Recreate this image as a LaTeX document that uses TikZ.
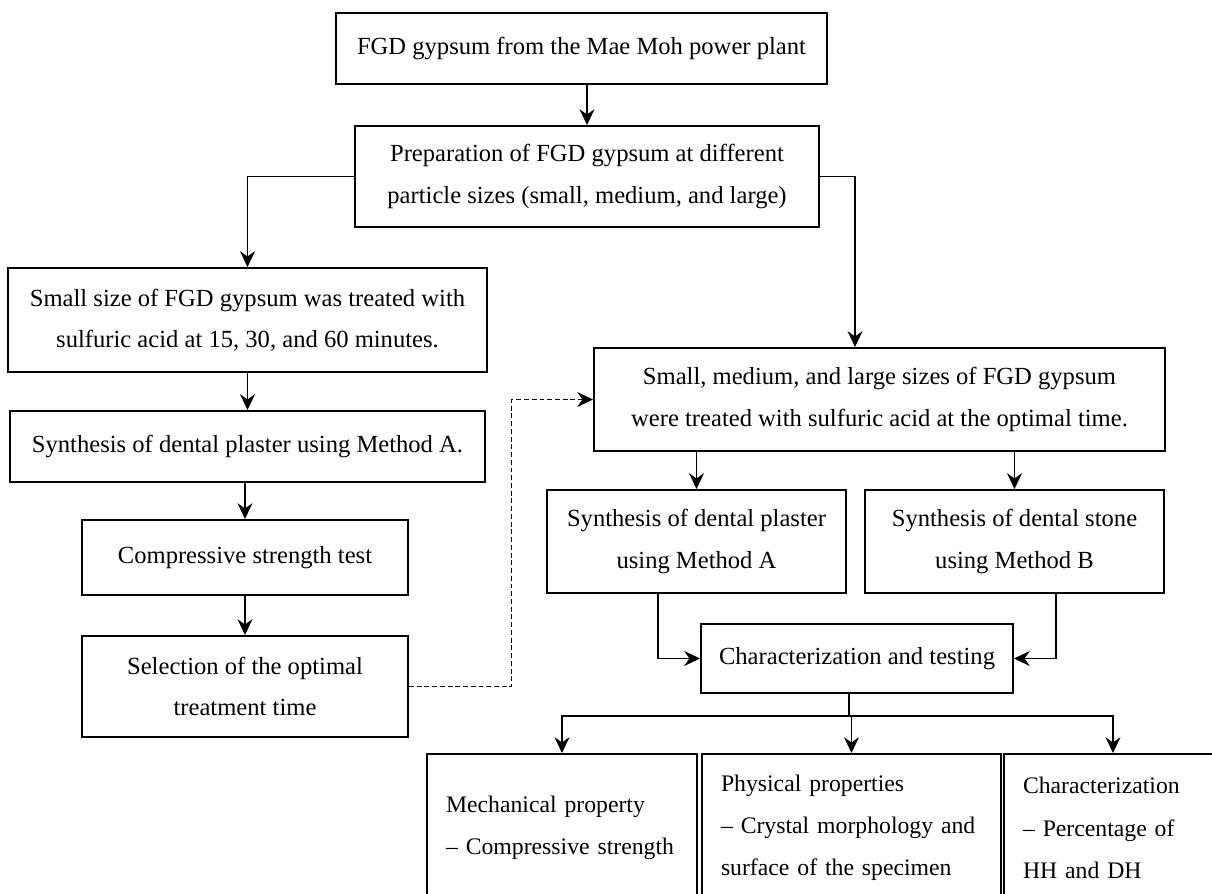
\documentclass[tikz,border=0pt]{standalone}
\usepackage{fontspec}
\setmainfont{Liberation Serif}
\usepackage{tikz}
\usetikzlibrary{arrows.meta, positioning}

\tikzset{
    >={Stealth[length=9pt, width=8.5pt, inset=3pt]},
    stepbox/.style={draw, line width=1.1pt, align=center, inner sep=0pt,
        font=\fontsize{14}{23.5}\selectfont},
    resultbox/.style={draw, line width=1.1pt, align=left, anchor=north,
        inner xsep=0.38cm, minimum height=2.96cm,
        font=\fontsize{13.5}{24}\selectfont},
    flow/.style={->, line width=0.9pt},
    branch/.style={->, line width=0.6pt}
}

\begin{document}
\begin{tikzpicture}
    \useasboundingbox (0,0) rectangle (24.24,-17.86);
    \clip (0,0) rectangle (24.24,-17.86);

    % main line
    \node[stepbox, minimum width=9.82cm, minimum height=1.42cm] (source) at (11.63,-0.97)
        {FGD gypsum from the Mae Moh power plant};
    \node[stepbox, minimum width=9.28cm, minimum height=2.02cm] (prep) at (11.74,-3.53)
        {Preparation of FGD gypsum at different\\particle sizes (small, medium, and large)};

    % left column
    \node[stepbox, minimum width=9.58cm, minimum height=2.08cm] (acid) at (4.95,-6.40)
        {Small size of FGD gypsum was treated with\\sulfuric acid at 15, 30, and 60 minutes.};
    \node[stepbox, minimum width=9.50cm, minimum height=1.42cm] (plasterA) at (4.95,-8.93)
        {Synthesis of dental plaster using Method A.};
    \node[stepbox, minimum width=6.52cm, minimum height=1.50cm] (comptest) at (4.90,-11.15)
        {Compressive strength test};
    \node[stepbox, minimum width=6.52cm, minimum height=2.02cm] (optimal) at (4.90,-13.73)
        {Selection of the optimal\\treatment time};

    % right column
    \node[stepbox, minimum width=11.42cm, minimum height=2.06cm] (sizes) at (17.59,-7.99)
        {Small, medium, and large sizes of FGD gypsum\\were treated with sulfuric acid at the optimal time.};
    \node[stepbox, minimum width=5.98cm, minimum height=2.06cm] (plaster) at (13.93,-10.83)
        {Synthesis of dental plaster\\using Method A};
    \node[stepbox, minimum width=5.98cm, minimum height=2.06cm] (stone) at (20.29,-10.83)
        {Synthesis of dental stone\\using Method B};
    \node[stepbox, minimum width=6.24cm, minimum height=1.38cm] (testing) at (17.14,-13.17)
        {Characterization and testing};

    % results
    \node[resultbox, text width=4.64cm] (mech) at (11.24,-15.06)
        {Mechanical property\\-- Compressive strength};
    \node[resultbox, text width=5.22cm] (phys) at (17.03,-15.06)
        {Physical properties\\-- Crystal morphology and\\surface of the specimen};
    \node[resultbox, text width=3.60cm] (charz) at (22.26,-15.06)
        {Characterization\\-- Percentage of\\HH and DH};

    \draw[flow] (prep.north |- source.south) -- (prep.north);
    \draw[flow] (prep.west) -| (acid.north);
    \draw[flow] (prep.east) -| ([xshift=-4.9mm]sizes.north);
    \draw[flow] (acid) -- (plasterA);
    \draw[flow] (comptest.north |- plasterA.south) -- (comptest.north);
    \draw[flow] (comptest) -- (optimal);
    \draw[branch, dash pattern=on 2.8pt off 1.6pt] (optimal.east) -- ++(2.06,0) |- (sizes.west);
    \draw[flow] (plaster.north |- sizes.south) -- (plaster.north);
    \draw[flow] (stone.north |- sizes.south) -- (stone.north);
    \draw[branch] ([xshift=-7.7mm]plaster.south) |- (testing.west);
    \draw[branch] ([xshift=8.3mm]stone.south) |- (testing.east);

    \draw[line width=0.6pt] ([xshift=-1.6mm]testing.south) -- ++(0,-0.44) coordinate (fork);
    \draw[branch] (fork) -| (mech.north);
    \draw[branch] (fork) -| (phys.north);
    \draw[branch] (fork) -| (charz.north);
\end{tikzpicture}
\end{document}
